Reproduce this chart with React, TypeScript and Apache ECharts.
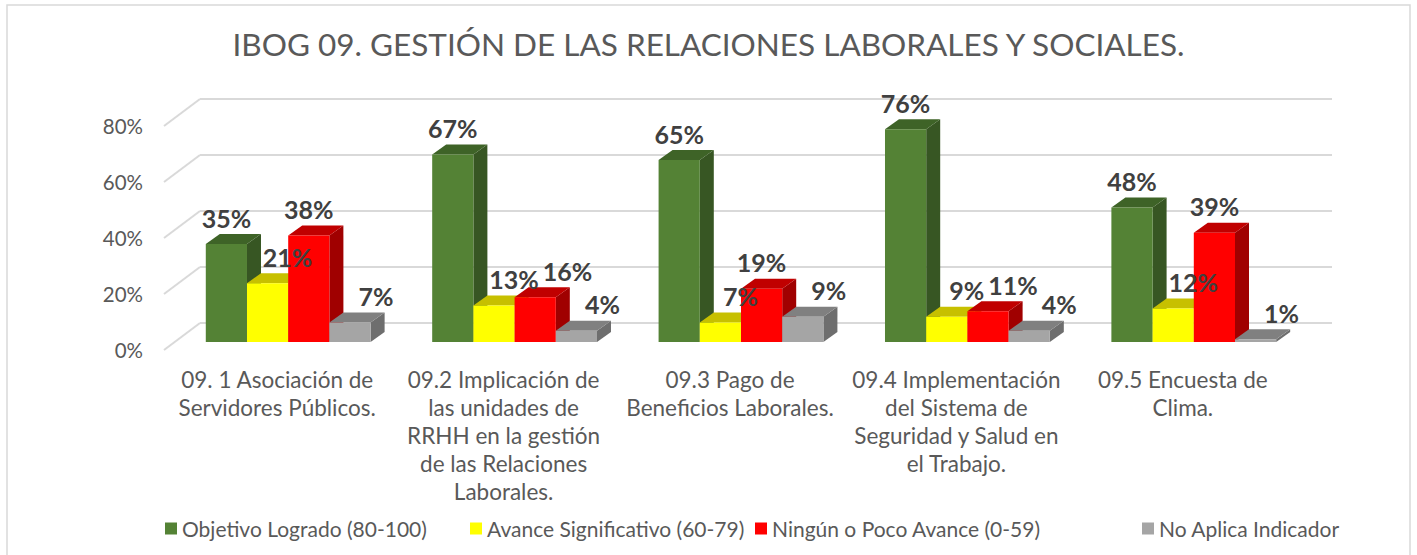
import React, { useEffect, useRef } from "react";
import * as echarts from "echarts";

const titleText = "IBOG 09. GESTIÓN DE LAS RELACIONES LABORALES Y SOCIALES.";
const categories = [
  "09. 1 Asociación de\nServidores Públicos.",
  "09.2 Implicación de\nlas unidades de\nRRHH en la gestión\nde las Relaciones\nLaborales.",
  "09.3 Pago de\nBeneficios Laborales.",
  "09.4 Implementación\ndel Sistema de\nSeguridad y Salud en\nel Trabajo.",
  "09.5 Encuesta de\nClima.",
];
const seriesNames = [
  "Objetivo Logrado (80-100)",
  "Avance Significativo (60-79)",
  "Ningún o Poco Avance (0-59)",
  "No Aplica Indicador",
];
const objetivoLogrado = [35, 67, 65, 76, 48];
const avanceSignificativo = [21, 13, 7, 9, 12];
const ningunAvance = [38, 16, 19, 11, 39];
const noAplica = [7, 4, 9, 4, 1];
const yTicks = [0, 20, 40, 60, 80];

const seriesData = [objetivoLogrado, avanceSignificativo, ningunAvance, noAplica];

const FONT = "Lato, 'Open Sans', sans-serif";
const TEXT = "#595959";
const LABEL_FONT = "bold 25px " + FONT;

const palettes = [
  { front: "#548235", top: "#3e6327", side: "#375623", labelDx: 0 },
  { front: "#FFFF00", top: "#c7c000", side: "#a8a300", labelDx: 20 },
  { front: "#FF0000", top: "#c00000", side: "#a00000", labelDx: 0 },
  { front: "#A5A5A5", top: "#808080", side: "#6e6e6e", labelDx: 26 },
];

const legendLefts = [165, 470, 755, 1142];

let measureCtx: CanvasRenderingContext2D | null = null;
function textWidth(t: string) {
  if (!measureCtx) {
    measureCtx = document.createElement("canvas").getContext("2d");
  }
  if (!measureCtx) return t.length * 14;
  measureCtx.font = LABEL_FONT;
  return measureCtx.measureText(t).width;
}

function labelBox(idx: number, cat: number, api: any) {
  const val = seriesData[idx][cat];
  const base = api.coord([cat, 0]);
  const top = api.coord([cat, val]);
  const band = api.size([1, 0])[0];
  const barW = band * 0.182;
  const x0 = base[0] - 2 * barW + idx * barW;
  let cx = x0 + barW / 2 + palettes[idx].labelDx;
  const w = textWidth(val + "%");
  const bottom = top[1] - 14;
  // simple collision avoidance with the label of the previous bar
  if (idx > 0) {
    const prev = labelBox(idx - 1, cat, api);
    const vOverlap = Math.abs(prev.bottom - bottom) < 24;
    const gap = cx - w / 2 - (prev.cx + prev.w / 2);
    if (vOverlap && gap < 4) cx += 4 - gap;
  }
  return { cx, bottom, w };
}

function barRenderer(idx: number) {
  const p = palettes[idx];
  return (params: any, api: any) => {
    const cat = api.value(0);
    const val = api.value(1);
    const base = api.coord([cat, 0]);
    const top = api.coord([cat, val]);
    const band = api.size([1, 0])[0];
    const barW = band * 0.182;
    const x0 = base[0] - 2 * barW + idx * barW;
    const x1 = x0 + barW;
    const yb = base[1];
    const yt = top[1];
    const dx = 14;
    const dy = -10;
    const lb = labelBox(idx, cat, api);
    return {
      type: "group",
      children: [
        {
          type: "polygon",
          z2: idx * 10 + 1,
          shape: { points: [[x1, yb], [x1 + dx, yb + dy], [x1 + dx, yt + dy], [x1, yt]] },
          style: { fill: p.side },
        },
        {
          type: "polygon",
          z2: idx * 10 + 2,
          shape: { points: [[x0, yt], [x0 + dx, yt + dy], [x1 + dx, yt + dy], [x1, yt]] },
          style: { fill: p.top },
        },
        {
          type: "rect",
          z2: idx * 10 + 3,
          shape: { x: x0, y: yt, width: barW, height: yb - yt },
          style: { fill: p.front },
        },
        {
          type: "text",
          z2: 1000,
          x: lb.cx,
          y: lb.bottom,
          style: {
            text: val + "%",
            fill: "#404040",
            font: LABEL_FONT,
            align: "center",
            verticalAlign: "bottom",
          },
        },
      ],
    };
  };
}

function gridRenderer(params: any, api: any) {
  const v = api.value(1);
  const pt = api.coord([0, v]);
  const cs = params.coordSys;
  const left = cs.x;
  const right = cs.x + cs.width;
  const y = pt[1];
  const lineStyle = { stroke: "#d9d9d9", lineWidth: 2, fill: "none" };
  return {
    type: "group",
    children: [
      { type: "line", shape: { x1: left + 25, y1: y - 19, x2: right + 25, y2: y - 19 }, style: lineStyle },
      { type: "line", shape: { x1: left - 11, y1: y + 8, x2: left + 25, y2: y - 19 }, style: lineStyle },
    ],
  };
}

export default function App() {
  const ref = useRef<HTMLDivElement>(null);
  useEffect(() => {
    if (!ref.current) return;
    const chart = echarts.init(ref.current, undefined, { renderer: "svg" });
    const option: any = {
      animation: false,
      backgroundColor: "#ffffff",
      title: {
        text: titleText,
        left: "center",
        top: 23,
        textStyle: { fontFamily: FONT, fontSize: 31.5, fontWeight: "normal", color: TEXT },
      },
      graphic: [
        {
          type: "rect",
          shape: { x: 7, y: 5, width: 1403, height: 570 },
          style: { fill: "none", stroke: "#d9d9d9", lineWidth: 1.5 },
          silent: true,
        },
      ],
      legend: seriesNames.map((n, i) => ({
        data: [n],
        left: legendLefts[i],
        top: 518,
        padding: 0,
        icon: "rect",
        itemWidth: 12,
        itemHeight: 12,
        itemGap: 6,
        selectedMode: false,
        textStyle: { fontFamily: FONT, fontSize: 21, color: TEXT },
      })),
      grid: [
        { left: 175, right: 110, top: 118, height: 224 },
        { left: 164, right: 121, top: 126, height: 224 },
      ],
      xAxis: [
        { type: "category", gridIndex: 0, data: categories, show: false },
        {
          type: "category",
          gridIndex: 1,
          data: categories,
          axisLine: { show: false },
          axisTick: { show: false },
          axisLabel: {
            interval: 0,
            margin: 15,
            fontFamily: FONT,
            fontSize: 22.5,
            lineHeight: 28,
            color: TEXT,
          },
        },
      ],
      yAxis: [
        { type: "value", gridIndex: 0, min: 0, max: 80, interval: 20, show: false },
        {
          type: "value",
          gridIndex: 1,
          min: 0,
          max: 80,
          interval: 20,
          axisLine: { show: false },
          axisTick: { show: false },
          splitLine: { show: false },
          axisLabel: {
            margin: 21,
            formatter: "{value}%",
            fontFamily: FONT,
            fontSize: 20.5,
            color: TEXT,
          },
        },
      ],
      series: [
        {
          type: "custom",
          name: "grid",
          xAxisIndex: 0,
          yAxisIndex: 0,
          z: 1,
          silent: true,
          renderItem: gridRenderer,
          data: yTicks.map((v) => [0, v]),
        },
        ...seriesNames.map((n, i) => ({
          type: "custom",
          name: n,
          xAxisIndex: 0,
          yAxisIndex: 0,
          z: 2,
          itemStyle: { color: palettes[i].front },
          renderItem: barRenderer(i),
          data: seriesData[i].map((v, c) => [c, v]),
        })),
      ],
    };
    chart.setOption(option);
    return () => chart.dispose();
  }, []);
  return (
    <div
      ref={ref}
      style={{ position: "absolute", left: 0, top: 0, width: 1417, height: 555 }}
    />
  );
}
